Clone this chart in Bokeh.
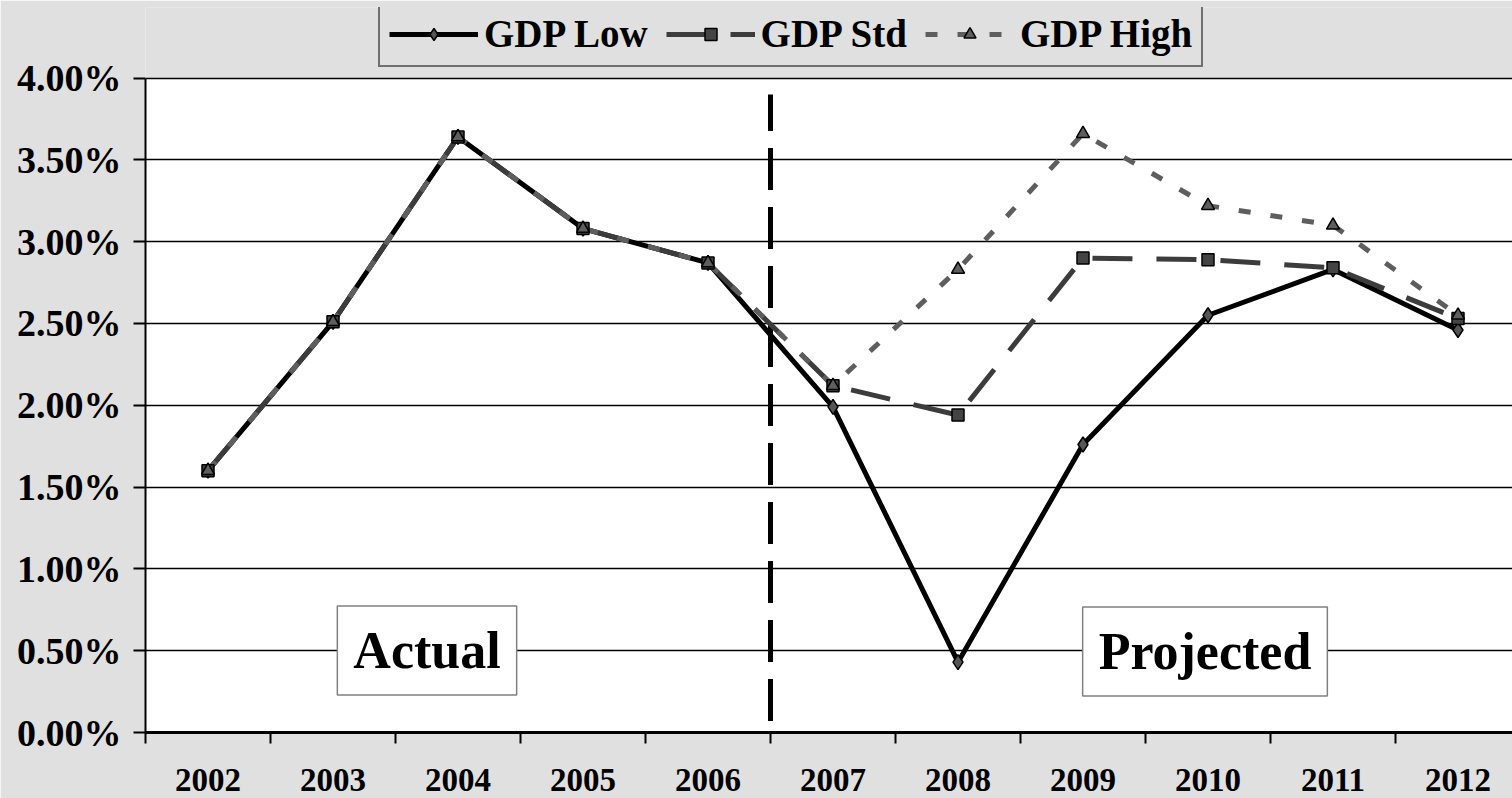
from bokeh.plotting import figure
from bokeh.models import (ColumnDataSource, FixedTicker, NumeralTickFormatter, Legend,
                          LegendItem, Label, Range1d, BoxAnnotation)
from bokeh.embed import file_html
from bokeh.resources import INLINE

years = ["2002", "2003", "2004", "2005", "2006", "2007", "2008", "2009", "2010", "2011", "2012"]
gdp_low = [1.60, 2.51, 3.64, 3.08, 2.87, 1.99, 0.43, 1.76, 2.55, 2.83, 2.46]
gdp_std = [1.60, 2.51, 3.64, 3.08, 2.87, 2.12, 1.94, 2.90, 2.89, 2.84, 2.53]
gdp_high = [1.60, 2.51, 3.64, 3.08, 2.87, 2.12, 2.83, 3.66, 3.22, 3.10, 2.55]
series_names = ["GDP Low", "GDP Std", "GDP High"]
y_ticks = [0.0, 0.5, 1.0, 1.5, 2.0, 2.5, 3.0, 3.5, 4.0]
first_projected = "2007"
annotations = ["Actual", "Projected"]

FONT = "Liberation Serif"
BG = "#E0E0E0"

n = len(years)
xs = [i + 0.5 for i in range(n)]
ymax = max(y_ticks) / 100
src = ColumnDataSource(dict(
    x=xs,
    low=[v / 100 for v in gdp_low],
    std=[v / 100 for v in gdp_std],
    high=[v / 100 for v in gdp_high],
))

# frame extends above the 4% line to host the legend; only the area up to 4% is white
p = figure(width=1512, height=798, output_backend="svg", toolbar_location=None,
           x_range=Range1d(0, 10.936), y_range=Range1d(0, 0.04431),
           min_border_left=145, min_border_top=7, min_border_bottom=66, min_border_right=0,
           background_fill_color=BG, border_fill_color=BG, outline_line_color=None)

p.add_layout(BoxAnnotation(top=ymax, fill_color="white", fill_alpha=1, line_color=None,
                           level="image"))

# axes
p.yaxis.ticker = FixedTicker(ticks=[t / 100 for t in y_ticks])
p.yaxis.bounds = (0, ymax)
p.yaxis.formatter = NumeralTickFormatter(format="0.00%")
p.yaxis.major_label_text_font = FONT
p.yaxis.major_label_text_font_style = "bold"
p.yaxis.major_label_text_font_size = "38px"
p.yaxis.major_label_text_color = "black"
p.yaxis.major_tick_out = 12
p.yaxis.major_tick_in = 0
p.yaxis.major_tick_line_width = 2
p.yaxis.major_tick_line_color = "black"
p.yaxis.minor_tick_line_color = None
p.yaxis.axis_line_width = 2
p.yaxis.axis_line_color = "black"
p.yaxis.major_label_standoff = 12

p.xaxis.ticker = FixedTicker(ticks=xs, minor_ticks=list(range(n + 1)))
p.xaxis.major_label_overrides = {x: y for x, y in zip(xs, years)}
p.xaxis.major_label_text_font = FONT
p.xaxis.major_label_text_font_style = "bold"
p.xaxis.major_label_text_font_size = "33px"
p.xaxis.major_label_text_color = "black"
p.xaxis.major_tick_line_color = None
p.xaxis.major_tick_out = 11
p.xaxis.major_tick_in = 0
p.xaxis.minor_tick_out = 11
p.xaxis.minor_tick_in = 0
p.xaxis.minor_tick_line_width = 2
p.xaxis.minor_tick_line_color = "black"
p.xaxis.axis_line_width = 3
p.xaxis.axis_line_color = "black"
p.xaxis.major_label_standoff = 25

p.xgrid.grid_line_color = None
p.ygrid.grid_line_color = "black"
p.ygrid.grid_line_width = 1.5

# projection divider
div_x = years.index(first_projected)
p.segment(x0=[div_x], y0=[0.0007], x1=[div_x], y1=[ymax - 0.001], line_color="black",
          line_width=5, line_dash="42 17")

# series
l_low = p.line("x", "low", source=src, line_color="black", line_width=5)
l_std = p.line("x", "std", source=src, line_color="#3c3c3c", line_width=5, line_dash="40 24")
l_high = p.line("x", "high", source=src, line_color="#5e5e5e", line_width=5, line_dash="12 20")
m_low = p.scatter("x", "low", source=src, marker="diamond", size=15,
                  fill_color="#555555", line_color="black", line_width=1.5)
m_std = p.scatter("x", "std", source=src, marker="square", size=12,
                  fill_color="#444444", line_color="black", line_width=1.5)
m_high = p.scatter("x", "high", source=src, marker="triangle", size=13,
                   fill_color="#5e5e5e", line_color="black", line_width=1.5)

legend = Legend(items=[
    LegendItem(label=series_names[0], renderers=[l_low, m_low]),
    LegendItem(label=series_names[1], renderers=[l_std, m_std]),
    LegendItem(label=series_names[2], renderers=[l_high, m_high]),
], orientation="horizontal", location=(233, 665))
legend.label_text_font = FONT
legend.label_text_font_style = "bold"
legend.label_text_font_size = "39px"
legend.label_text_color = "black"
legend.glyph_width = 89
legend.glyph_height = 30
legend.label_standoff = 6
legend.spacing = 18
legend.padding = 9
legend.margin = 0
legend.border_line_color = "black"
legend.border_line_width = 2
legend.background_fill_color = BG
legend.background_fill_alpha = 1
p.add_layout(legend, "center")

# Actual / Projected boxes
for txt, lx, ly in [(annotations[0], 2.252, 0.00501), (annotations[1], 8.476, 0.00495)]:
    p.add_layout(Label(x=lx, y=ly, text=txt, text_font=FONT, text_font_style="bold",
                       text_font_size="52px", text_align="center", text_baseline="middle",
                       text_color="black", background_fill_color="white",
                       border_line_color="#808080", border_line_width=1.5, padding=16))

open("out.html", "w").write(file_html(p, INLINE))
